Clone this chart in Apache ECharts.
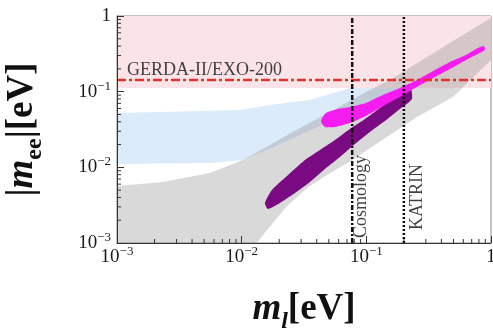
<!DOCTYPE html>
<html>
<head>
<meta charset="utf-8">
<script src="https://cdn.jsdelivr.net/npm/echarts@6/dist/echarts.min.js"></script>
<style>
  html, body { margin: 0; padding: 0; background: #fff; }
  #main { width: 493px; height: 328px; }
</style>
</head>
<body>
<div id="main"></div>
<script>
// axis ranges (log scale, eV)
var xRange = [1e-3, 1];
var yRange = [1e-3, 1];
var decades = [1e-3, 1e-2, 1e-1];
var minorMult = [2, 3, 4, 5, 6, 7, 8, 9];

// experimental limits
var gerdaLimit = 0.143;
var cosmoLimit = 0.077;
var katrinLimit = 0.2;

// excluded region (pink), [m_l, |m_ee|]
var pinkBand = [[1e-3, 0.112], [1, 0.112], [1, 1], [1e-3, 1]];

// inverted ordering band (blue): upper edge then lower edge back
var ioBand = [
  [0.001, 0.0523], [0.0097, 0.0573], [0.0169, 0.0667], [0.0353, 0.0777],
  [0.074, 0.112], [0.155, 0.152], [0.5, 0.47], [1, 0.94],
  [1, 0.4], [0.3, 0.15], [0.1, 0.07], [0.05, 0.04], [0.02, 0.02],
  [0.0102, 0.0125], [0.0056, 0.0114], [0.001, 0.0111]
];

// normal ordering band (grey)
var noBand = [
  [0.001, 0.00568], [0.00234, 0.00641], [0.00557, 0.00843], [0.01024, 0.01253],
  [0.01686, 0.01977], [0.02937, 0.03311], [0.05108, 0.05395], [0.0993, 0.0991],
  [0.1545, 0.1428], [0.4955, 0.4677], [1, 0.941],
  [1, 0.262], [0.495, 0.085], [0.255, 0.0463], [0.0738, 0.0119], [0.0511, 0.00843],
  [0.0332, 0.0053], [0.02296, 0.00303], [0.01687, 0.00165], [0.0132, 0.001],
  [0.001, 0.001]
];

// model points, outline of the purple cloud
var purpleBlob = [
  [0.01538, 0.00339], [0.0175, 0.00503], [0.02308, 0.0077], [0.03218, 0.01253],
  [0.04245, 0.017], [0.05601, 0.023], [0.07386, 0.0322], [0.09745, 0.0436],
  [0.1285, 0.0609], [0.1696, 0.0851], [0.2237, 0.1189],
  [0.2321, 0.0801], [0.186, 0.0591], [0.1409, 0.041], [0.1069, 0.0294],
  [0.08101, 0.0204], [0.06142, 0.01372], [0.04656, 0.00953], [0.03529, 0.00641],
  [0.02675, 0.00459], [0.02028, 0.00339], [0.01625, 0.00282]
];

// model points, outline of the magenta cloud
var magentaBlob = [
  [0.04324, 0.041], [0.04742, 0.0523], [0.0592, 0.0591], [0.07386, 0.0628],
  [0.09927, 0.0709], [0.1358, 0.0904], [0.186, 0.1119], [0.2545, 0.1428],
  [0.3549, 0.1935], [0.4682, 0.2468], [0.6291, 0.3053], [0.7852, 0.3777],
  [0.8774, 0.4015],
  [0.8937, 0.3556], [0.6775, 0.2787], [0.4682, 0.1995], [0.3549, 0.1563],
  [0.2545, 0.1153], [0.186, 0.0851], [0.1409, 0.0667], [0.09927, 0.0478],
  [0.07386, 0.0386], [0.05601, 0.0342], [0.04656, 0.0342]
];

var serif = 'Liberation Serif';

// minor tick positions 2..9 in each decade
var minorTicks = [];
decades.forEach(function (d) {
  minorMult.forEach(function (k) { minorTicks.push(d * k); });
});

function polygon(pts, fill, smooth) {
  return {
    type: 'custom',
    silent: true,
    clip: true,
    data: pts,
    renderItem: function (params, api) {
      if (params.dataIndex !== 0) return null;
      return {
        type: 'polygon',
        shape: { points: pts.map(function (p) { return api.coord(p); }), smooth: smooth || 0 },
        style: { fill: fill }
      };
    }
  };
}

function tickSeries(vals, vertical) {
  return {
    type: 'custom',
    silent: true,
    data: vals.map(function (v) { return vertical ? [xRange[0], v] : [v, yRange[0]]; }),
    renderItem: function (params, api) {
      var p = api.coord([api.value(0), api.value(1)]);
      var shape = vertical
        ? { x1: p[0], y1: p[1], x2: p[0] + 4, y2: p[1] }
        : { x1: p[0], y1: p[1], x2: p[0], y2: p[1] - 4 };
      return { type: 'line', shape: shape, style: { stroke: '#333', lineWidth: 1 } };
    }
  };
}

function limitLine(pts, color, dash) {
  return {
    type: 'line',
    silent: true,
    symbol: 'none',
    data: pts,
    lineStyle: { color: color, width: 2.5, type: dash }
  };
}

// offset is in the label's own (rotated) frame: [along, across]
function textMark(pt, text, rotate, offset, align, vAlign) {
  return {
    type: 'scatter',
    silent: true,
    symbolSize: 1,
    itemStyle: { color: 'transparent' },
    data: [pt],
    label: {
      show: true,
      position: 'inside',
      formatter: text,
      rotate: rotate,
      offset: offset,
      align: align,
      verticalAlign: vAlign,
      fontFamily: serif,
      fontSize: 18,
      color: '#111'
    }
  };
}

function expLabel(v) {
  var e = Math.round(Math.log10(v));
  if (e === 0) return '{b|1}';
  return '{b|10}{s|\u2212' + Math.abs(e) + '}';
}

var tickRich = {
  b: { fontFamily: serif, fontSize: 19, color: '#1a1a1a', lineHeight: 24, verticalAlign: 'middle' },
  s: { fontFamily: serif, fontSize: 13, color: '#1a1a1a', lineHeight: 12, verticalAlign: 'top' }
};

var nameRich = {
  t: { fontFamily: serif, fontWeight: 'bold', fontSize: 37, color: '#111', lineHeight: 50, verticalAlign: 'middle' },
  m: { fontFamily: serif, fontWeight: 'bold', fontStyle: 'italic', fontSize: 37, color: '#111', lineHeight: 50, verticalAlign: 'middle' },
  s: { fontFamily: serif, fontWeight: 'bold', fontSize: 24, color: '#111', lineHeight: 26, verticalAlign: 'bottom' },
  si: { fontFamily: serif, fontWeight: 'bold', fontStyle: 'italic', fontSize: 24, color: '#111', lineHeight: 26, verticalAlign: 'bottom' }
};

var chart = echarts.init(document.getElementById('main'));

chart.setOption({
  backgroundColor: '#fff',
  animation: false,
  grid: {
    left: 117, right: 2, top: 16, bottom: 85,
    outerBoundsMode: 'none', containLabel: false,
    show: true, borderColor: '#888', borderWidth: 1
  },
  xAxis: {
    type: 'log', logBase: 10, min: xRange[0], max: xRange[1], z: 5,
    name: '{m|m}{si|l}{t|[eV]}',
    nameLocation: 'middle', nameGap: 41,
    nameTextStyle: { rich: nameRich },
    axisLine: { lineStyle: { color: '#333', width: 1 } },
    axisTick: { inside: true, length: 7, lineStyle: { color: '#333' } },
    splitLine: { show: false },
    axisLabel: { formatter: expLabel, rich: tickRich, margin: 2 }
  },
  yAxis: {
    type: 'log', logBase: 10, min: yRange[0], max: yRange[1], z: 5,
    name: '{t||}{m|m}{s|ee}{t||[eV]}',
    nameLocation: 'middle', nameGap: 70,
    nameTextStyle: { rich: nameRich },
    axisLine: { lineStyle: { color: '#333', width: 1 } },
    axisTick: { inside: true, length: 7, lineStyle: { color: '#333' } },
    splitLine: { show: false },
    axisLabel: { formatter: expLabel, rich: tickRich, margin: 6 }
  },
  series: [
    polygon(ioBand, '#dcebf9'),
    polygon(pinkBand, '#fae4e7'),
    polygon(noBand, 'rgba(128,128,128,0.3)'),
    polygon(purpleBlob, '#7a0a82', 0.2),
    polygon(magentaBlob, '#f51cf2', 0.2),
    limitLine([[xRange[0], gerdaLimit], [xRange[1], gerdaLimit]], '#e5332a', [9, 3, 3, 3]),
    limitLine([[cosmoLimit, yRange[0]], [cosmoLimit, yRange[1]]], '#111', [5, 2, 2, 2]),
    limitLine([[katrinLimit, yRange[0]], [katrinLimit, yRange[1]]], '#111', [2, 2]),
    tickSeries(minorTicks, false),
    tickSeries(minorTicks, true),
    textMark([xRange[0], gerdaLimit], 'GERDA-II/EXO-200', 0, [10, -1], 'left', 'bottom'),
    textMark([cosmoLimit, yRange[0]], 'Cosmology', 90, [5, 9], 'left', 'middle'),
    textMark([katrinLimit, yRange[0]], 'KATRIN', 90, [13, 13], 'left', 'middle')
  ]
});
</script>
</body>
</html>
